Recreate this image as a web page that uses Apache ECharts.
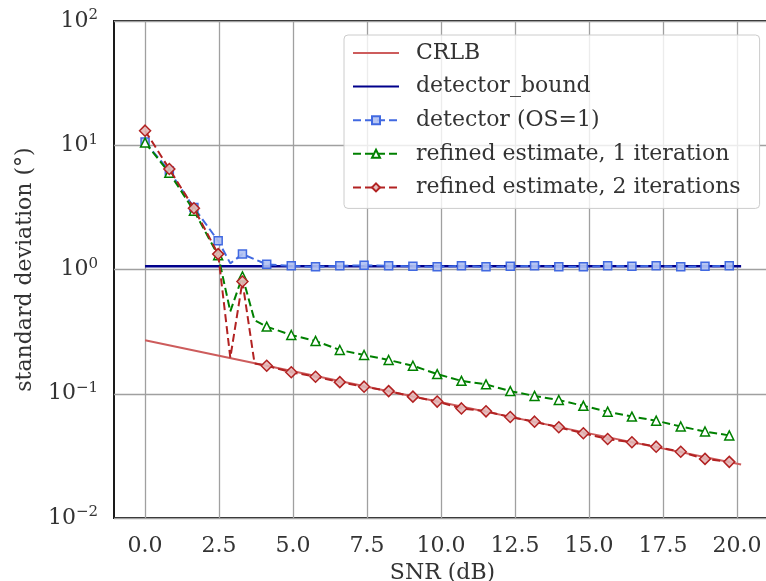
<!DOCTYPE html>
<html><head><meta charset="utf-8">
<script src="https://cdn.jsdelivr.net/npm/echarts@6/dist/echarts.min.js"></script>
<style>html,body{margin:0;padding:0;background:#fff}#c{width:766px;height:581px}</style>
</head><body><div id="c"></div>
<script>
// ---- data ----
const snr = [0, 0.82, 1.65, 2.47, 3.29, 4.11, 4.94, 5.76, 6.58, 7.40, 8.23, 9.05, 9.87,
  10.69, 11.52, 12.34, 13.16, 13.98, 14.81, 15.63, 16.45, 17.27, 18.10, 18.92, 19.74];
const detector = [10.6, 6.2, 3.15, 1.70, 1.33, 1.10, 1.07, 1.05, 1.07, 1.08, 1.07, 1.06, 1.05,
  1.07, 1.05, 1.06, 1.07, 1.05, 1.05, 1.07, 1.06, 1.07, 1.05, 1.06, 1.07];
const refined1 = [10.5, 6.0, 2.97, 1.30, 0.88, 0.347, 0.297, 0.266, 0.225, 0.205, 0.187, 0.168, 0.144,
  0.127, 0.119, 0.105, 0.096, 0.089, 0.080, 0.0718, 0.0655, 0.0607, 0.0545, 0.0497, 0.0462];
const refined2 = [13.1, 6.44, 3.11, 1.33, 0.80, 0.168, 0.149, 0.137, 0.124, 0.114, 0.105, 0.0948, 0.0865,
  0.0762, 0.0722, 0.065, 0.0596, 0.0537, 0.0481, 0.0432, 0.0407, 0.0375, 0.0341, 0.0299, 0.0283];
// intermediate (unmarked) points of the dashed curves
const detectorExtraSnr = [2.88];
const detectorExtraVal = [1.12];
const refined1ExtraSnr = [2.88, 3.70];
const refined1ExtraVal = [0.46, 0.39];
const refined2ExtraSnr = [2.88, 3.70];
const refined2ExtraVal = [0.195, 0.175];
const crlbSnr = [0, 5, 10, 15, 20.14];
const crlbVal = [0.27, 0.152, 0.0855, 0.048, 0.027];
const boundSnr = [0, 20.14];
const boundVal = [1.06, 1.06];
const xTicks = [0, 2.5, 5, 7.5, 10, 12.5, 15, 17.5, 20];
const names = ['CRLB', 'detector_bound', 'detector (OS=1)', 'refined estimate, 1 iteration', 'refined estimate, 2 iterations'];

function pairs(xs, ys) { return xs.map((x, i) => [x, ys[i]]); }
function merged(xs, ys, exX, exY) {
  const items = xs.map((x, i) => ({ value: [x, ys[i]] }));
  exX.forEach((x, i) => items.push({ value: [x, exY[i]], symbol: 'none' }));
  items.sort((a, b) => a.value[0] - b.value[0]);
  return items;
}
const FONT = 'DejaVu Serif';
const FS = 22;
const chart = echarts.init(document.getElementById('c'), null, { renderer: 'canvas' });
chart.setOption({
  animation: false,
  backgroundColor: '#ffffff',
  textStyle: { fontFamily: FONT },
  grid: { left: 114, top: 21, width: 657, height: 497, outerBoundsMode: 'none', containLabel: false,
    show: true, borderColor: '#1a1a1a', borderWidth: 2, backgroundColor: 'transparent' },
  legend: {
    data: names.map((n, i) => i < 2 ? { name: n, itemStyle: { opacity: 0 } } : { name: n }),
    orient: 'vertical', left: 344, top: 35,
    itemWidth: 46, itemHeight: 10, itemGap: 7.6,
    padding: [5, 19, 8, 8],
    backgroundColor: 'rgba(255,255,255,0.8)', borderColor: '#cccccc', borderWidth: 1, borderRadius: 4,
    textStyle: { fontFamily: FONT, fontSize: FS, color: '#333', lineHeight: 26, padding: [0, 0, 0, 12] }
  },
  xAxis: {
    type: 'value', min: -1.05, max: 21.15,
    name: 'SNR (dB)', nameLocation: 'middle', nameGap: 38,
    nameTextStyle: { fontFamily: FONT, fontSize: FS, color: '#333' },
    axisLine: { show: false },
    axisTick: { show: false, customValues: xTicks },
    axisLabel: { customValues: xTicks, fontFamily: FONT, fontSize: FS, color: '#333', margin: 17,
      formatter: v => Number(v).toFixed(1) },
    splitLine: { show: true, lineStyle: { color: '#a0a0a0', width: 1.3 } }
  },
  yAxis: {
    type: 'log', logBase: 10, min: 0.01, max: 100,
    name: 'standard deviation (\u00b0)', nameLocation: 'middle', nameGap: 78,
    nameTextStyle: { fontFamily: FONT, fontSize: FS, color: '#333' },
    axisLine: { show: false }, axisTick: { show: false },
    axisLabel: { margin: 16, color: '#333',
      formatter: v => { const e = Math.round(Math.log10(v)); return '{b|10}{s|' + String(e).replace('-', '\u2212') + '}'; },
      rich: { b: { fontFamily: FONT, fontSize: FS, color: '#333', lineHeight: 26 },
              s: { fontFamily: FONT, fontSize: 15, color: '#333', verticalAlign: 'top', lineHeight: 15 } } },
    splitLine: { show: true, lineStyle: { color: '#a0a0a0', width: 1.3 } },
    minorSplitLine: { show: false }
  },
  series: [
    { name: names[0], type: 'line', data: pairs(crlbSnr, crlbVal), symbol: 'none', z: 2,
      lineStyle: { color: '#cd5c5c', width: 2 }, itemStyle: { color: '#cd5c5c' } },
    { name: names[1], type: 'line', data: pairs(boundSnr, boundVal), symbol: 'none', z: 3,
      lineStyle: { color: '#00008b', width: 2.5 }, itemStyle: { color: '#00008b' } },
    { name: names[2], type: 'line', data: merged(snr, detector, detectorExtraSnr, detectorExtraVal), z: 4,
      symbol: 'rect', symbolSize: 8,
      lineStyle: { color: '#4169e1', width: 2, type: [8, 4] },
      itemStyle: { color: 'rgba(175,192,242,0.9)', borderColor: '#4169e1', borderWidth: 1.5 } },
    { name: names[3], type: 'line', data: merged(snr, refined1, refined1ExtraSnr, refined1ExtraVal), z: 5,
      symbol: 'triangle', symbolSize: 9,
      lineStyle: { color: '#008000', width: 2, type: [8, 4] },
      itemStyle: { color: '#ffffff', borderColor: '#008000', borderWidth: 1.5 } },
    { name: names[4], type: 'line', data: merged(snr, refined2, refined2ExtraSnr, refined2ExtraVal), z: 6,
      symbol: 'diamond', symbolSize: 11,
      lineStyle: { color: '#b22222', width: 2, type: [8, 4] },
      itemStyle: { color: 'rgba(228,185,185,0.9)', borderColor: '#b22222', borderWidth: 1.5 } }
  ]
});
</script>
</body></html>
